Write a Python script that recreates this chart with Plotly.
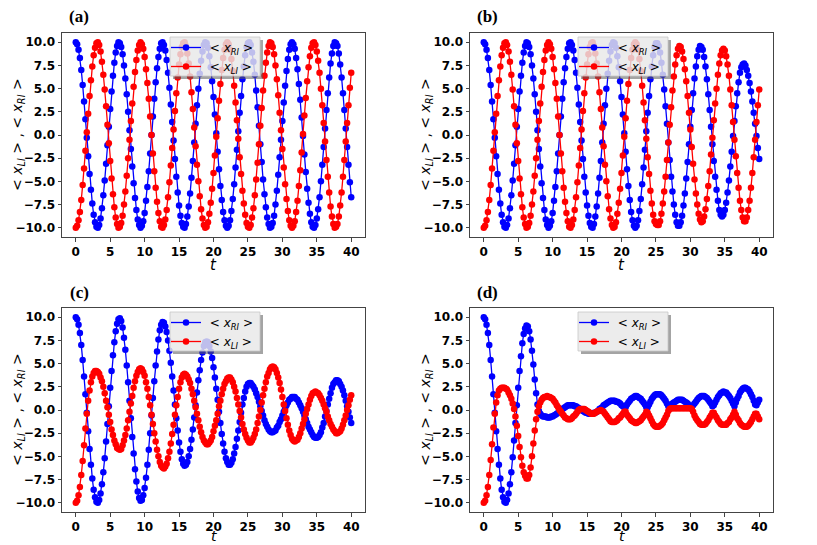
import plotly.graph_objects as go

# time grid (t) shared by every panel
t = [
    0.0, 0.2, 0.4, 0.6, 0.8, 1.0, 1.2, 1.4, 1.6, 1.8,
    2.0, 2.2, 2.4, 2.6, 2.8, 3.0, 3.2, 3.4, 3.6, 3.8,
    4.0, 4.2, 4.4, 4.6, 4.8, 5.0, 5.2, 5.4, 5.6, 5.8,
    6.0, 6.2, 6.4, 6.6, 6.8, 7.0, 7.2, 7.4, 7.6, 7.8,
    8.0, 8.2, 8.4, 8.6, 8.8, 9.0, 9.2, 9.4, 9.6, 9.8,
    10.0, 10.2, 10.4, 10.6, 10.8, 11.0, 11.2, 11.4, 11.6, 11.8,
    12.0, 12.2, 12.4, 12.6, 12.8, 13.0, 13.2, 13.4, 13.6, 13.8,
    14.0, 14.2, 14.4, 14.6, 14.8, 15.0, 15.2, 15.4, 15.6, 15.8,
    16.0, 16.2, 16.4, 16.6, 16.8, 17.0, 17.2, 17.4, 17.6, 17.8,
    18.0, 18.2, 18.4, 18.6, 18.8, 19.0, 19.2, 19.4, 19.6, 19.8,
    20.0, 20.2, 20.4, 20.6, 20.8, 21.0, 21.2, 21.4, 21.6, 21.8,
    22.0, 22.2, 22.4, 22.6, 22.8, 23.0, 23.2, 23.4, 23.6, 23.8,
    24.0, 24.2, 24.4, 24.6, 24.8, 25.0, 25.2, 25.4, 25.6, 25.8,
    26.0, 26.2, 26.4, 26.6, 26.8, 27.0, 27.2, 27.4, 27.6, 27.8,
    28.0, 28.2, 28.4, 28.6, 28.8, 29.0, 29.2, 29.4, 29.6, 29.8,
    30.0, 30.2, 30.4, 30.6, 30.8, 31.0, 31.2, 31.4, 31.6, 31.8,
    32.0, 32.2, 32.4, 32.6, 32.8, 33.0, 33.2, 33.4, 33.6, 33.8,
    34.0, 34.2, 34.4, 34.6, 34.8, 35.0, 35.2, 35.4, 35.6, 35.8,
    36.0, 36.2, 36.4, 36.6, 36.8, 37.0, 37.2, 37.4, 37.6, 37.8,
    38.0, 38.2, 38.4, 38.6, 38.8, 39.0, 39.2, 39.4, 39.6, 39.8,
    40.0,
]

# (a) <x_RI>, <x_LI>
x_ri_a = [
    10.0, 9.8, 9.2, 8.3, 7.0, 5.4, 3.6, 1.7, -0.3, -2.3,
    -4.2, -5.9, -7.4, -8.6, -9.4, -9.9, -10.0, -9.7, -9.0, -7.9,
    -6.5, -4.9, -3.1, -1.1, 0.9, 2.8, 4.7, 6.4, 7.8, 8.9,
    9.6, 10.0, 9.9, 9.5, 8.7, 7.5, 6.1, 4.4, 2.5, 0.5,
    -1.5, -3.4, -5.2, -6.8, -8.1, -9.1, -9.7, -10.0, -9.8, -9.3,
    -8.4, -7.1, -5.6, -3.9, -2.0, 0.0, 2.0, 3.9, 5.7, 7.2,
    8.4, 9.3, 9.9, 10.0, 9.7, 9.1, 8.1, 6.7, 5.1, 3.3,
    1.4, -0.6, -2.6, -4.5, -6.2, -7.6, -8.7, -9.5, -9.9, -10.0,
    -9.6, -8.8, -7.7, -6.3, -4.6, -2.8, -0.8, 1.2, 3.2, 5.0,
    6.6, 8.0, 9.0, 9.7, 10.0, 9.9, 9.4, 8.5, 7.3, 5.8,
    4.1, 2.2, 0.2, -1.8, -3.7, -5.5, -7.0, -8.3, -9.2, -9.8,
    -10.0, -9.8, -9.2, -8.2, -6.9, -5.3, -3.5, -1.6, 0.4, 2.4,
    4.2, 6.0, 7.4, 8.6, 9.5, 9.9, 10.0, 9.7, 8.9, 7.9,
    6.5, 4.8, 3.0, 1.0, -1.0, -2.9, -4.8, -6.4, -7.8, -8.9,
    -9.6, -10.0, -9.9, -9.5, -8.7, -7.5, -6.0, -4.3, -2.4, -0.5,
    1.5, 3.5, 5.3, 6.9, 8.2, 9.2, 9.8, 10.0, 9.8, 9.3,
    8.3, 7.1, 5.5, 3.8, 1.9, -0.1, -2.1, -4.0, -5.8, -7.3,
    -8.5, -9.4, -9.9, -10.0, -9.7, -9.0, -8.0, -6.7, -5.0, -3.2,
    -1.3, 0.7, 2.7, 4.5, 6.2, 7.7, 8.8, 9.6, 10.0, 9.9,
    9.6, 8.8, 7.6, 6.2, 4.5, 2.7, 0.7, -1.3, -3.2, -5.1,
    -6.7,
]
x_li_a = [
    -10.0, -9.8, -9.2, -8.3, -7.0, -5.4, -3.6, -1.7, 0.3, 2.3,
    4.2, 5.9, 7.4, 8.6, 9.4, 9.9, 10.0, 9.7, 9.0, 7.9,
    6.5, 4.9, 3.1, 1.1, -0.9, -2.8, -4.7, -6.4, -7.8, -8.9,
    -9.6, -10.0, -9.9, -9.5, -8.7, -7.5, -6.1, -4.4, -2.5, -0.5,
    1.5, 3.4, 5.2, 6.8, 8.1, 9.1, 9.7, 10.0, 9.8, 9.3,
    8.4, 7.1, 5.6, 3.9, 2.0, 0.0, -2.0, -3.9, -5.7, -7.2,
    -8.4, -9.3, -9.9, -10.0, -9.7, -9.1, -8.1, -6.7, -5.1, -3.3,
    -1.4, 0.6, 2.6, 4.5, 6.2, 7.6, 8.7, 9.5, 9.9, 10.0,
    9.6, 8.8, 7.7, 6.3, 4.6, 2.8, 0.8, -1.2, -3.2, -5.0,
    -6.6, -8.0, -9.0, -9.7, -10.0, -9.9, -9.4, -8.5, -7.3, -5.8,
    -4.1, -2.2, -0.2, 1.8, 3.7, 5.5, 7.0, 8.3, 9.2, 9.8,
    10.0, 9.8, 9.2, 8.2, 6.9, 5.3, 3.5, 1.6, -0.4, -2.4,
    -4.2, -6.0, -7.4, -8.6, -9.5, -9.9, -10.0, -9.7, -8.9, -7.9,
    -6.5, -4.8, -3.0, -1.0, 1.0, 2.9, 4.8, 6.4, 7.8, 8.9,
    9.6, 10.0, 9.9, 9.5, 8.7, 7.5, 6.0, 4.3, 2.4, 0.5,
    -1.5, -3.5, -5.3, -6.9, -8.2, -9.2, -9.8, -10.0, -9.8, -9.3,
    -8.3, -7.1, -5.5, -3.8, -1.9, 0.1, 2.1, 4.0, 5.8, 7.3,
    8.5, 9.4, 9.9, 10.0, 9.7, 9.0, 8.0, 6.7, 5.0, 3.2,
    1.3, -0.7, -2.7, -4.5, -6.2, -7.7, -8.8, -9.6, -10.0, -9.9,
    -9.6, -8.8, -7.6, -6.2, -4.5, -2.7, -0.7, 1.3, 3.2, 5.1,
    6.7,
]

# (b)
x_ri_b = [
    10.0, 9.8, 9.2, 8.3, 7.0, 5.4, 3.6, 1.7, -0.3, -2.3,
    -4.2, -5.9, -7.4, -8.6, -9.4, -9.9, -10.0, -9.7, -9.0, -7.9,
    -6.5, -4.9, -3.1, -1.1, 0.9, 2.8, 4.7, 6.4, 7.8, 8.9,
    9.6, 10.0, 9.9, 9.5, 8.7, 7.5, 6.1, 4.4, 2.5, 0.5,
    -1.5, -3.4, -5.2, -6.8, -8.1, -9.1, -9.7, -10.0, -9.8, -9.3,
    -8.4, -7.1, -5.6, -3.9, -2.0, 0.0, 2.0, 3.9, 5.7, 7.2,
    8.4, 9.3, 9.9, 10.0, 9.7, 9.1, 8.1, 6.7, 5.1, 3.3,
    1.4, -0.6, -2.6, -4.5, -6.2, -7.6, -8.7, -9.5, -9.9, -10.0,
    -9.6, -8.8, -7.7, -6.3, -4.6, -2.8, -0.8, 1.2, 3.2, 5.0,
    6.6, 8.0, 9.0, 9.7, 10.0, 9.9, 9.4, 8.5, 7.3, 5.8,
    4.1, 2.2, 0.2, -1.8, -3.7, -5.5, -7.0, -8.3, -9.2, -9.8,
    -10.0, -9.8, -9.2, -8.2, -6.9, -5.3, -3.5, -1.6, 0.4, 2.4,
    4.2, 6.0, 7.4, 8.6, 9.5, 9.9, 9.9, 9.6, 8.9, 7.8,
    6.5, 4.9, 3.1, 1.2, -0.8, -2.7, -4.5, -6.1, -7.5, -8.6,
    -9.4, -9.8, -9.8, -9.4, -8.7, -7.6, -6.3, -4.7, -2.9, -1.0,
    0.9, 2.7, 4.5, 6.1, 7.4, 8.5, 9.2, 9.6, 9.5, 9.2,
    8.4, 7.4, 6.0, 4.4, 2.7, 0.9, -1.0, -2.8, -4.5, -5.9,
    -7.1, -8.1, -8.6, -8.8, -8.6, -8.1, -7.3, -6.2, -4.9, -3.4,
    -1.8, -0.1, 1.5, 3.1, 4.5, 5.7, 6.7, 7.3, 7.6, 7.7,
    7.5, 7.0, 6.4, 5.6, 4.7, 3.6, 2.4, 1.2, -0.1, -1.4,
    -2.6,
]
x_li_b = [
    -10.0, -9.8, -9.2, -8.3, -7.0, -5.4, -3.6, -1.7, 0.3, 2.3,
    4.2, 5.9, 7.4, 8.6, 9.4, 9.9, 10.0, 9.7, 9.0, 7.9,
    6.5, 4.9, 3.1, 1.1, -0.9, -2.8, -4.7, -6.4, -7.8, -8.9,
    -9.6, -10.0, -9.9, -9.5, -8.7, -7.5, -6.1, -4.4, -2.5, -0.5,
    1.5, 3.4, 5.2, 6.8, 8.1, 9.1, 9.7, 10.0, 9.8, 9.3,
    8.4, 7.1, 5.6, 3.9, 2.0, 0.0, -2.0, -3.9, -5.7, -7.2,
    -8.4, -9.3, -9.9, -10.0, -9.7, -9.1, -8.1, -6.7, -5.1, -3.3,
    -1.4, 0.6, 2.6, 4.5, 6.2, 7.6, 8.7, 9.5, 9.9, 10.0,
    9.6, 8.8, 7.7, 6.3, 4.6, 2.8, 0.8, -1.2, -3.2, -5.0,
    -6.6, -8.0, -9.0, -9.7, -10.0, -9.9, -9.4, -8.5, -7.3, -5.8,
    -4.1, -2.2, -0.2, 1.8, 3.7, 5.5, 7.0, 8.3, 9.2, 9.8,
    10.0, 9.8, 9.2, 8.2, 6.9, 5.3, 3.5, 1.6, -0.4, -2.4,
    -4.2, -6.0, -7.4, -8.6, -9.3, -9.6, -9.7, -9.7, -9.3, -8.5,
    -7.4, -6.1, -4.5, -2.7, -0.8, 1.1, 3.0, 4.8, 6.3, 7.6,
    8.6, 9.3, 9.6, 9.5, 9.0, 8.2, 7.1, 5.8, 4.2, 2.4,
    0.6, -1.3, -3.1, -4.8, -6.3, -7.5, -8.5, -9.1, -9.4, -9.3,
    -8.8, -8.0, -6.9, -5.5, -3.9, -2.1, -0.3, 1.6, 3.4, 5.0,
    6.5, 7.7, 8.6, 9.1, 9.3, 9.1, 8.5, 7.6, 6.4, 4.9,
    3.2, 1.4, -0.5, -2.3, -4.1, -5.7, -7.1, -8.1, -8.9, -9.3,
    -9.3, -8.9, -8.1, -7.1, -5.7, -4.1, -2.4, -0.5, 1.4, 3.2,
    4.9,
]

# (c)
x_ri_c = [
    10.0, 9.8, 9.2, 8.3, 7.0, 5.4, 3.6, 1.7, -0.3, -2.3,
    -4.2, -5.9, -7.4, -8.6, -9.4, -9.9, -10.0, -9.7, -9.0, -8.0,
    -6.7, -5.2, -3.4, -1.5, 0.4, 2.4, 4.2, 5.9, 7.3, 8.5,
    9.3, 9.8, 9.9, 9.6, 8.9, 7.8, 6.5, 4.8, 3.0, 1.0,
    -0.9, -2.9, -4.7, -6.4, -7.7, -8.8, -9.5, -9.8, -9.7, -9.2,
    -8.4, -7.3, -5.9, -4.3, -2.5, -0.6, 1.3, 3.1, 4.8, 6.3,
    7.6, 8.6, 9.2, 9.5, 9.4, 9.0, 8.4, 7.5, 6.4, 5.1,
    3.6, 2.1, 0.6, -0.9, -2.2, -3.5, -4.5, -5.3, -5.8, -6.0,
    -5.9, -5.6, -5.0, -4.2, -3.2, -2.1, -0.8, 0.5, 1.9, 3.2,
    4.3, 5.4, 6.2, 6.9, 7.3, 7.4, 7.3, 6.9, 6.3, 5.6,
    4.6, 3.5, 2.3, 1.1, -0.2, -1.4, -2.6, -3.6, -4.5, -5.2,
    -5.6, -5.9, -5.9, -5.7, -5.3, -4.7, -4.0, -3.1, -2.2, -1.3,
    -0.3, 0.6, 1.3, 2.0, 2.5, 2.8, 2.9, 2.9, 2.7, 2.5,
    2.2, 1.8, 1.4, 0.9, 0.4, -0.1, -0.6, -1.1, -1.5, -1.8,
    -2.1, -2.3, -2.4, -2.4, -2.3, -2.2, -1.9, -1.7, -1.3, -1.0,
    -0.6, -0.2, 0.2, 0.5, 0.8, 1.1, 1.2, 1.4, 1.4, 1.4,
    1.2, 1.1, 0.8, 0.5, 0.2, -0.2, -0.6, -1.0, -1.4, -1.8,
    -2.1, -2.4, -2.7, -2.9, -3.0, -3.0, -2.9, -2.7, -2.4, -1.9,
    -1.4, -0.7, -0.1, 0.6, 1.2, 1.8, 2.4, 2.8, 3.0, 3.2,
    3.2, 3.1, 2.8, 2.5, 2.1, 1.6, 1.0, 0.4, -0.2, -0.8,
    -1.4,
]
x_li_c = [
    -10.0, -9.8, -9.2, -8.3, -7.0, -5.5, -3.8, -2.0, -0.4, 1.0,
    2.1, 3.0, 3.6, 4.0, 4.2, 4.2, 4.1, 3.9, 3.5, 3.1,
    2.5, 1.8, 1.0, 0.3, -0.5, -1.3, -2.1, -2.7, -3.3, -3.7,
    -4.1, -4.2, -4.3, -4.2, -3.8, -3.3, -2.7, -2.0, -1.1, -0.2,
    0.7, 1.5, 2.4, 3.1, 3.7, 4.1, 4.4, 4.5, 4.4, 4.1,
    3.7, 3.0, 2.3, 1.4, 0.5, -0.5, -1.5, -2.5, -3.4, -4.3,
    -5.0, -5.6, -6.0, -6.2, -6.3, -6.1, -5.8, -5.2, -4.5, -3.6,
    -2.6, -1.6, -0.5, 0.5, 1.4, 2.3, 3.0, 3.5, 3.8, 3.9,
    3.8, 3.6, 3.3, 2.9, 2.3, 1.7, 1.0, 0.3, -0.4, -1.1,
    -1.8, -2.4, -2.9, -3.3, -3.5, -3.7, -3.7, -3.5, -3.3, -2.9,
    -2.3, -1.7, -1.1, -0.4, 0.4, 1.0, 1.7, 2.3, 2.8, 3.1,
    3.4, 3.5, 3.5, 3.3, 3.0, 2.5, 2.0, 1.3, 0.6, -0.1,
    -0.8, -1.5, -2.1, -2.6, -3.0, -3.3, -3.5, -3.5, -3.3, -3.0,
    -2.6, -2.1, -1.4, -0.7, 0.0, 0.8, 1.6, 2.3, 3.0, 3.6,
    4.0, 4.4, 4.6, 4.7, 4.6, 4.4, 4.0, 3.5, 2.9, 2.2,
    1.4, 0.6, -0.1, -0.9, -1.6, -2.2, -2.7, -3.1, -3.3, -3.4,
    -3.3, -3.2, -2.9, -2.5, -2.0, -1.5, -1.0, -0.4, 0.1, 0.6,
    1.1, 1.5, 1.8, 1.9, 2.0, 1.9, 1.8, 1.6, 1.3, 1.0,
    0.6, 0.2, -0.2, -0.7, -1.1, -1.5, -1.8, -2.1, -2.3, -2.5,
    -2.5, -2.4, -2.3, -2.0, -1.6, -1.1, -0.6, 0.0, 0.5, 1.1,
    1.6,
]

# (d)
x_ri_d = [
    10.0, 9.8, 9.2, 8.3, 7.0, 5.4, 3.6, 1.7, -0.3, -2.3,
    -4.2, -5.9, -7.4, -8.6, -9.4, -9.9, -10.0, -9.7, -9.0, -8.0,
    -6.7, -5.1, -3.3, -1.4, 0.5, 2.4, 4.2, 5.8, 7.2, 8.2,
    8.8, 9.1, 9.0, 8.5, 7.6, 6.4, 4.9, 3.3, 1.8, 0.6,
    -0.1, -0.4, -0.6, -0.7, -0.7, -0.7, -0.8, -0.8, -0.8, -0.7,
    -0.7, -0.6, -0.5, -0.4, -0.3, -0.2, 0.0, 0.1, 0.2, 0.3,
    0.4, 0.5, 0.5, 0.5, 0.5, 0.5, 0.4, 0.4, 0.3, 0.2,
    0.1, 0.0, -0.1, -0.2, -0.3, -0.3, -0.4, -0.4, -0.4, -0.4,
    -0.3, -0.3, -0.2, -0.1, 0.1, 0.2, 0.3, 0.5, 0.6, 0.7,
    0.8, 0.9, 1.0, 1.0, 1.0, 1.0, 0.9, 0.9, 0.8, 0.7,
    0.5, 0.4, 0.3, 0.3, 0.6, 0.8, 1.0, 1.2, 1.3, 1.4,
    1.5, 1.5, 1.4, 1.3, 1.2, 1.0, 0.8, 0.6, 0.3, 0.3,
    0.6, 0.9, 1.2, 1.4, 1.6, 1.7, 1.7, 1.7, 1.7, 1.6,
    1.4, 1.2, 1.0, 0.7, 0.4, 0.4, 0.5, 0.7, 0.8, 0.9,
    1.0, 1.1, 1.1, 1.1, 1.1, 1.0, 0.9, 0.8, 0.7, 0.5,
    0.4, 0.2, 0.5, 0.7, 0.9, 1.1, 1.3, 1.4, 1.5, 1.5,
    1.5, 1.4, 1.3, 1.1, 0.9, 0.7, 0.4, 0.5, 0.8, 1.1,
    1.4, 1.6, 1.8, 1.9, 2.0, 1.9, 1.9, 1.7, 1.5, 1.3,
    1.0, 0.7, 0.4, 0.8, 1.2, 1.5, 1.9, 2.1, 2.3, 2.4,
    2.4, 2.3, 2.2, 2.0, 1.7, 1.4, 1.0, 0.6, 0.5, 0.8,
    1.1,
]
x_li_d = [
    -10.0, -9.8, -9.2, -8.3, -7.0, -5.4, -3.7, -1.9, -0.4, 0.8,
    1.6, 2.1, 2.3, 2.4, 2.4, 2.4, 2.3, 2.2, 1.9, 1.6,
    1.2, 0.7, 0.1, -0.7, -1.7, -2.8, -4.0, -5.1, -6.0, -6.7,
    -7.1, -7.4, -7.4, -7.0, -6.2, -5.0, -3.6, -2.2, -1.0, -0.2,
    0.4, 0.8, 1.1, 1.3, 1.4, 1.4, 1.5, 1.4, 1.4, 1.3,
    1.2, 1.0, 0.8, 0.5, 0.3, 0.0, -0.2, -0.4, -0.6, -0.8,
    -0.9, -1.0, -1.0, -1.0, -0.9, -0.7, -0.6, -0.4, -0.2, 0.0,
    0.1, 0.1, 0.1, 0.1, 0.0, -0.1, -0.2, -0.3, -0.4, -0.4,
    -0.4, -0.3, -0.2, -0.1, -0.1, 0.0, -0.1, -0.2, -0.4, -0.6,
    -0.8, -1.0, -1.2, -1.3, -1.3, -1.3, -1.2, -1.1, -0.9, -0.8,
    -0.6, -0.4, -0.2, -0.2, -0.5, -0.7, -0.9, -1.1, -1.2, -1.3,
    -1.4, -1.4, -1.3, -1.2, -1.1, -0.9, -0.7, -0.5, -0.2, -0.3,
    -0.6, -0.9, -1.2, -1.5, -1.7, -1.8, -1.8, -1.8, -1.7, -1.6,
    -1.4, -1.1, -0.8, -0.5, -0.1, 0.1, 0.2, 0.2, 0.2, 0.2,
    0.2, 0.2, 0.2, 0.2, 0.2, 0.2, 0.2, 0.2, 0.2, 0.2,
    0.2, 0.1, -0.2, -0.6, -0.9, -1.1, -1.3, -1.5, -1.6, -1.6,
    -1.6, -1.5, -1.3, -1.1, -0.8, -0.6, -0.3, -0.3, -0.6, -0.8,
    -1.1, -1.3, -1.5, -1.6, -1.6, -1.6, -1.6, -1.4, -1.3, -1.0,
    -0.8, -0.5, -0.2, -0.5, -0.9, -1.1, -1.4, -1.6, -1.7, -1.8,
    -1.8, -1.8, -1.7, -1.5, -1.3, -1.0, -0.7, -0.4, -0.4, -0.7,
    -1.0,
]

panel_labels = ["(a)", "(b)", "(c)", "(d)"]
x_ticks = [0, 5, 10, 15, 20, 25, 30, 35, 40]
y_ticks = [-10, -7.5, -5, -2.5, 0, 2.5, 5, 7.5, 10]
y_tick_text = ["\u221210.0", "\u22127.5", "\u22125.0", "\u22122.5", "0.0",
               "2.5", "5.0", "7.5", "10.0"]
ri_name = "&nbsp;&lt; <i>x</i><sub><i>RI</i></sub> &gt;"
li_name = "&nbsp;&lt; <i>x</i><sub><i>LI</i></sub> &gt;"
y_title = ("&lt; <i>x</i><sub><i>LI</i></sub> &gt; , "
           "&lt; <i>x</i><sub><i>RI</i></sub> &gt;")

W, H = 817, 545
OFF = 8                            # the page body adds an 8 px margin
cols = [(62, 365), (470, 773)]     # axes left/right in page px
rows = [(33, 237), (308, 512)]     # axes top/bottom in page px
t_title = [(265, 15), (536, 14)]   # centre y and font size of "t" per row
frame = "#444444"
tick_font = dict(family="DejaVu Sans", size=12, color="black", weight="bold")

series = [(x_ri_a, x_li_a), (x_ri_b, x_li_b), (x_ri_c, x_li_c), (x_ri_d, x_li_d)]


def px(x):
    return (x - OFF) / W


def py(y):
    return 1 - (y - OFF) / H


fig = go.Figure()
shapes, annotations, layout = [], [], {}
for i, (ri, li) in enumerate(series):
    n = "" if i == 0 else str(i + 1)
    r, c = divmod(i, 2)
    left, right = cols[c]
    top, bottom = rows[r]
    leg = "legend" + n

    fig.add_trace(go.Scatter(x=t, y=ri, mode="lines+markers", name=ri_name,
                             line=dict(color="blue", width=1.3),
                             marker=dict(color="blue", size=6.5),
                             xaxis="x" + n, yaxis="y" + n, legend=leg))
    fig.add_trace(go.Scatter(x=t, y=li, mode="lines+markers", name=li_name,
                             line=dict(color="red", width=1.3),
                             marker=dict(color="red", size=6.5),
                             xaxis="x" + n, yaxis="y" + n, legend=leg))

    common = dict(showline=True, mirror=True, linecolor=frame, linewidth=1,
                  ticks="outside", ticklen=3.5, tickwidth=1, tickcolor=frame,
                  showgrid=False, zeroline=False, tickfont=tick_font,
                  automargin=False)
    layout["xaxis" + n] = dict(domain=[px(left), px(right)], anchor="y" + n,
                               range=[-2, 42], tickvals=x_ticks, **common)
    layout["yaxis" + n] = dict(domain=[py(bottom), py(top)], anchor="x" + n,
                               range=[-11, 11], tickvals=y_ticks,
                               ticktext=y_tick_text, **common)

    # axis titles
    ty, tsize = t_title[r]
    annotations.append(dict(text="<i>t</i>", xref="paper", yref="paper",
                            x=px((left + right) / 2), y=py(ty),
                            showarrow=False, xanchor="center", yanchor="middle",
                            font=dict(family="DejaVu Sans", size=tsize,
                                      color="black")))
    annotations.append(dict(text=y_title, xref="paper", yref="paper",
                            x=px(left - 44), y=py((top + bottom) / 2),
                            textangle=-90, showarrow=False,
                            xanchor="center", yanchor="middle",
                            font=dict(family="DejaVu Sans", size=14, color="black")))

    # legend box with a soft shadow, legend entries drawn inside it
    bx0, bx1 = left + 108, left + 198
    by0, by1 = top + 4, top + 43
    sh = 3
    for (sx0, sx1, sy0, sy1) in [(bx1, bx1 + sh, by0 + sh, by1 + sh),
                                 (bx0 + sh, bx1, by1, by1 + sh)]:
        shapes.append(dict(type="rect", xref="paper", yref="paper",
                           x0=px(sx0), x1=px(sx1), y0=py(sy1), y1=py(sy0),
                           fillcolor="rgba(90,90,90,0.55)", line=dict(width=0),
                           layer="above"))
    shapes.append(dict(type="rect", xref="paper", yref="paper",
                       x0=px(bx0), x1=px(bx1), y0=py(by1), y1=py(by0),
                       fillcolor="rgba(232,232,232,0.82)",
                       line=dict(color="#c8c8c8", width=0.8), layer="above"))
    layout[leg] = dict(x=px(bx0 - 4), y=py(by0 - 4),
                       xanchor="left", yanchor="top",
                       bgcolor="rgba(0,0,0,0)", borderwidth=0,
                       font=dict(family="DejaVu Sans", size=12, color="black"),
                       itemwidth=30, tracegroupgap=0)

    annotations.append(dict(text="<b>%s</b>" % panel_labels[i], xref="paper",
                            yref="paper", x=px(left + 17), y=py(top - 16),
                            showarrow=False, xanchor="center", yanchor="middle",
                            font=dict(family="Liberation Serif", size=17,
                                      color="black")))

fig.update_layout(width=W, height=H, margin=dict(l=0, r=0, t=0, b=0),
                  paper_bgcolor="white", plot_bgcolor="white",
                  showlegend=True, shapes=shapes, annotations=annotations,
                  **layout)

fig.write_html("out.html")
